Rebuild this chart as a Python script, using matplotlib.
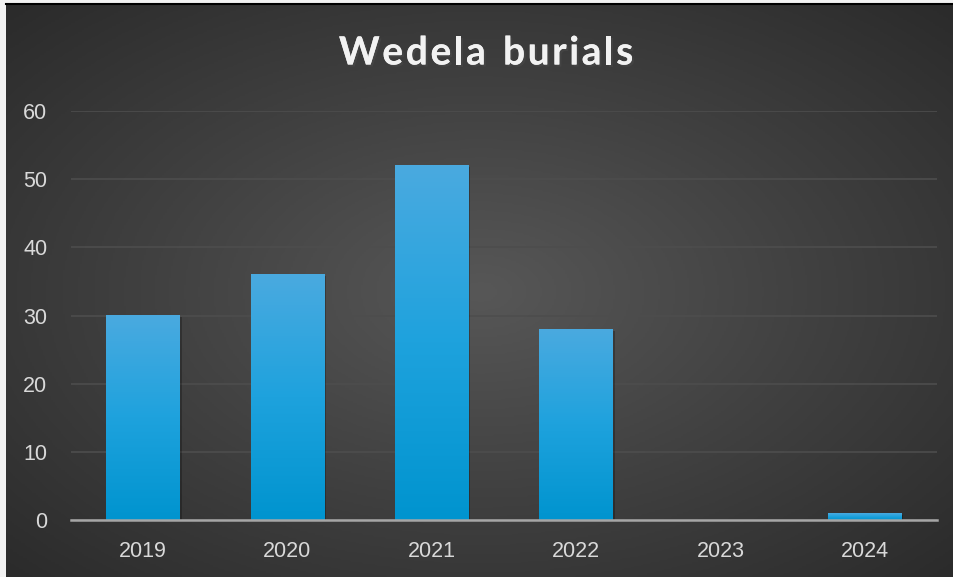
"""Wedela burials bar chart."""

import matplotlib
matplotlib.use("Agg")
import matplotlib.pyplot as plt
import matplotlib.patheffects as pe
import numpy as np
from matplotlib.colors import LinearSegmentedColormap

YEARS = ["2019", "2020", "2021", "2022", "2023", "2024"]
BURIALS = [30, 36, 52, 28, 0, 1]
TITLE = "Wedela burials"

W, H, DPI = 954, 577, 100
TICK_COLOR = "#d9d9d9"
GRID_COLOR = "#4d4d4d"

fig = plt.figure(figsize=(W / DPI, H / DPI), dpi=DPI)
fig.patch.set_facecolor("#f2f2f2")

# radial gradient background
bg = fig.add_axes([6 / W, 0, 1 - 6 / W, (H - 5) / H])
bg.axis("off")
yy, xx = np.mgrid[0:300, 0:500]
cx, cy = 250, 150
r = np.sqrt(((xx - cx) / 500) ** 2 + ((yy - cy) / 300) ** 2) / 0.72
r = np.clip(r, 0, 1)
bg_cmap = LinearSegmentedColormap.from_list("bg", ["#575757", "#404040", "#2a2a2a"])
bg.imshow(r, cmap=bg_cmap, aspect="auto", extent=[0, 1, 0, 1], vmin=0, vmax=1)
bg.set_xlim(0, 1)
bg.set_ylim(0, 1)
fig.add_artist(plt.Line2D([6 / W, 1], [(H - 4) / H] * 2, color="black", lw=1.5))

ax = fig.add_axes([71 / W, 57 / H, 866 / W, 409 / H])
ax.set_facecolor("none")
x = np.arange(len(YEARS))
bars = ax.bar(x, BURIALS, width=0.51, color="none", zorder=3)

# vertical gradient fill for each bar
bar_cmap = LinearSegmentedColormap.from_list("bar", ["#0094cf", "#1ea2dd", "#4aaae0"])
grad = np.linspace(0, 1, 256).reshape(-1, 1)
for b in bars:
    h = b.get_height()
    if h <= 0:
        continue
    x0 = b.get_x()
    ax.imshow(grad, cmap=bar_cmap, aspect="auto", origin="lower",
              extent=[x0, x0 + b.get_width(), 0, h], zorder=3)
    # soft shadow
    ax.add_patch(plt.Rectangle((x0 + 0.012, 0), b.get_width(), h - 0.25,
                               color="black", alpha=0.25, zorder=2, lw=0))

ax.set_xlim(-0.5, len(YEARS) - 0.5)
ax.set_ylim(0, 60)
ax.set_yticks(range(0, 61, 10))
ax.set_xticks(x)
ax.set_xticklabels(YEARS)
ax.grid(axis="y", color=GRID_COLOR, lw=1.2, zorder=0)
ax.set_axisbelow(True)
for s in ["top", "right", "left"]:
    ax.spines[s].set_visible(False)
ax.spines["bottom"].set_color("#a6a6a6")
ax.spines["bottom"].set_linewidth(1.8)
ax.spines["bottom"].set_zorder(4)
ax.tick_params(length=0, colors=TICK_COLOR, labelsize=15.5, pad=15)
ax.tick_params(axis="y", pad=17)
for lab in ax.get_xticklabels() + ax.get_yticklabels():
    lab.set_family("Liberation Sans")

# title with letter spacing, drawn glyph by glyph
renderer = fig.canvas.get_renderer()
tkw = dict(fontsize=28, fontweight="bold", color="#f2f2f2", family="Lato",
           va="center", ha="left",
           path_effects=[pe.withSimplePatchShadow(offset=(1.5, -1.5), alpha=0.6),
                         pe.Normal()])
spacing = 2.6
widths = []
for ch in TITLE:
    t = fig.text(0, 0, ch if ch != " " else "n", **tkw)
    widths.append(t.get_window_extent(renderer).width * (0.55 if ch == " " else 1))
    t.remove()
total = sum(widths) + spacing * (len(TITLE) - 1)
xpos = 486 - total / 2
for ch, w in zip(TITLE, widths):
    if ch != " ":
        fig.text(xpos / W, 1 - 53 / H, ch, **tkw)
    xpos += w + spacing

fig.savefig("out.png", dpi=DPI, facecolor=fig.get_facecolor())
